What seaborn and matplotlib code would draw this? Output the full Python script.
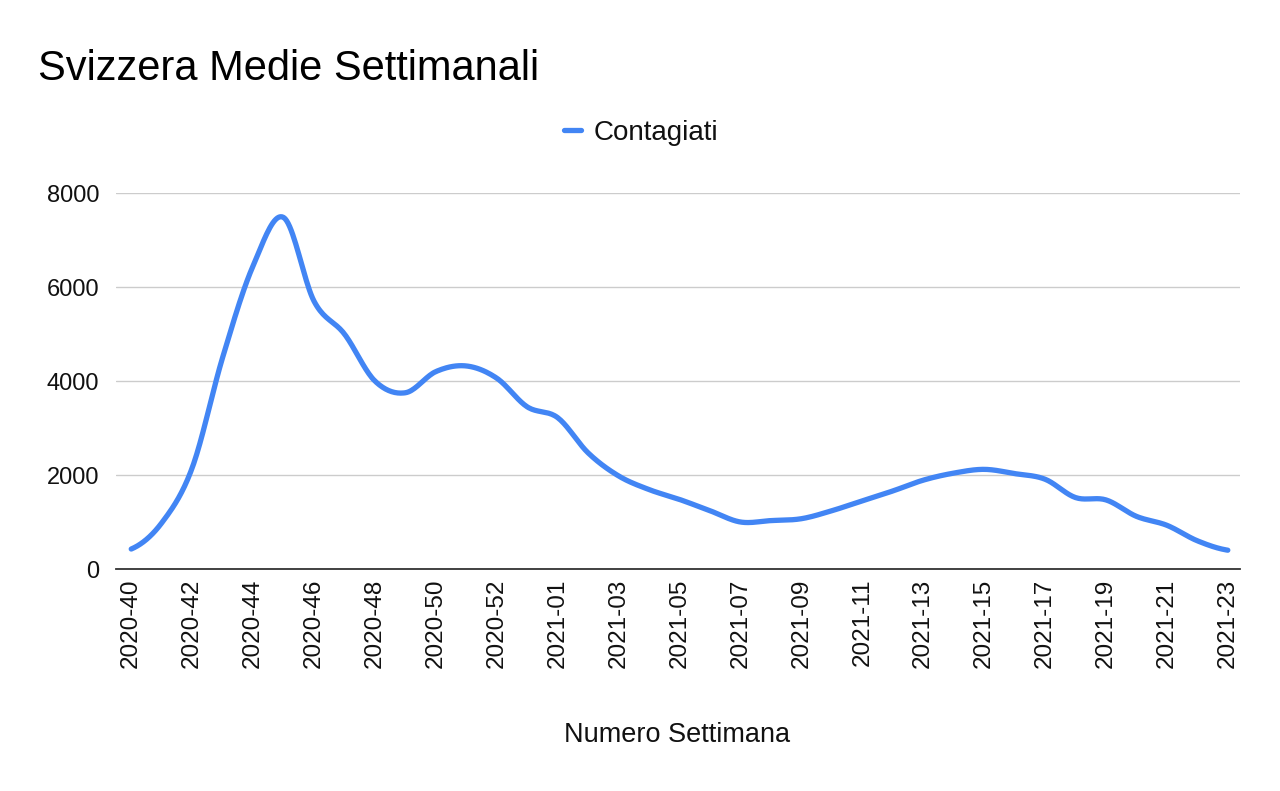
import numpy as np
import pandas as pd
import matplotlib
matplotlib.use("Agg")
import matplotlib.pyplot as plt
import seaborn as sns
from matplotlib.lines import Line2D

# dati: medie settimanali contagi Svizzera
settimane = (
    [f"2020-{w}" for w in range(40, 54)]
    + [f"2021-{w:02d}" for w in range(1, 24)]
)
contagiati = [
    425, 980, 2150, 4500, 6450, 7480, 5700, 5000, 4000, 3750,
    4200, 4320, 4060, 3450, 3220, 2470, 1980, 1690, 1480, 1240,
    1000, 1030, 1070, 1240, 1450, 1660, 1890, 2040, 2120, 2030,
    1910, 1520, 1470, 1120, 930, 600, 400,
]
etichette = settimane[::2]

df = pd.DataFrame({"settimana": settimane, "contagiati": contagiati})
df["pos"] = np.arange(len(df))


# curva smussata (Catmull-Rom) come nel grafico originale
def smooth(x, y, n=20):
    x = np.asarray(x, float)
    y = np.asarray(y, float)
    xp = np.concatenate([[2 * x[0] - x[1]], x, [2 * x[-1] - x[-2]]])
    yp = np.concatenate([[y[0]], y, [y[-1]]])
    xs, ys = [], []
    t = np.linspace(0, 1, n, endpoint=False)
    for i in range(1, len(xp) - 2):
        p0, p1, p2, p3 = yp[i - 1], yp[i], yp[i + 1], yp[i + 2]
        yy = 0.5 * ((2 * p1) + (-p0 + p2) * t
                    + (2 * p0 - 5 * p1 + 4 * p2 - p3) * t ** 2
                    + (-p0 + 3 * p1 - 3 * p2 + p3) * t ** 3)
        xs.append(xp[i] + (xp[i + 1] - xp[i]) * t)
        ys.append(yy)
    xs.append([x[-1]])
    ys.append([y[-1]])
    return np.concatenate(xs), np.concatenate(ys)


sx, sy = smooth(df["pos"], df["contagiati"])
curva = pd.DataFrame({"x": sx, "y": sy})

sns.set_style("white")
plt.rcParams["font.family"] = ["Liberation Sans", "DejaVu Sans"]

blu = "#4285F4"
testo = "#111111"
fig = plt.figure(figsize=(12.8, 7.91), dpi=100)
ax = fig.add_axes([116 / 1280, 1 - 569 / 791, (1240 - 116) / 1280, (569 - 193) / 791])

sns.lineplot(data=curva, x="x", y="y", ax=ax, color=blu, lw=3.8,
             estimator=None, sort=False, solid_capstyle="round")

ax.set_xlim(-0.5, 36.4)
ax.set_ylim(0, 8000)
ax.set_yticks([0, 2000, 4000, 6000, 8000])
ax.set_yticklabels(["0", "2000", "4000", "6000", "8000"])
ax.set_xticks(np.arange(0, len(settimane), 2))
ax.set_xticklabels(etichette, rotation=90, va="top", ha="center")
ax.tick_params(axis="y", length=0, pad=12, labelsize=17, labelcolor=testo)
ax.tick_params(axis="x", length=0, pad=7, labelsize=17.5, labelcolor=testo)

ax.grid(axis="y", color="#cccccc", lw=1)
ax.set_axisbelow(True)
for s in ["top", "right", "left"]:
    ax.spines[s].set_visible(False)
ax.spines["bottom"].set_color("#333333")
ax.spines["bottom"].set_linewidth(1.3)
ax.spines["bottom"].set_zorder(3)

ax.set_xlabel("")
ax.set_ylabel("")
fig.text(677 / 1280, 1 - 735 / 791, "Numero Settimana", fontsize=19.5,
         ha="center", va="center", color=testo)

fig.text(38 / 1280, 1 - 80 / 791, "Svizzera Medie Settimanali", fontsize=30,
         ha="left", va="baseline", color="#000000")

handle = Line2D([0], [0], color=blu, lw=3.8)
ax.legend([handle], ["Contagiati"], loc="center left",
          bbox_to_anchor=(564 / 1280, 1 - 133 / 791),
          bbox_transform=fig.transFigure, frameon=False,
          fontsize=20, handlelength=0.6, handletextpad=0.45,
          borderpad=0, borderaxespad=0, labelcolor=testo)

plt.savefig("out.png", dpi=100)
